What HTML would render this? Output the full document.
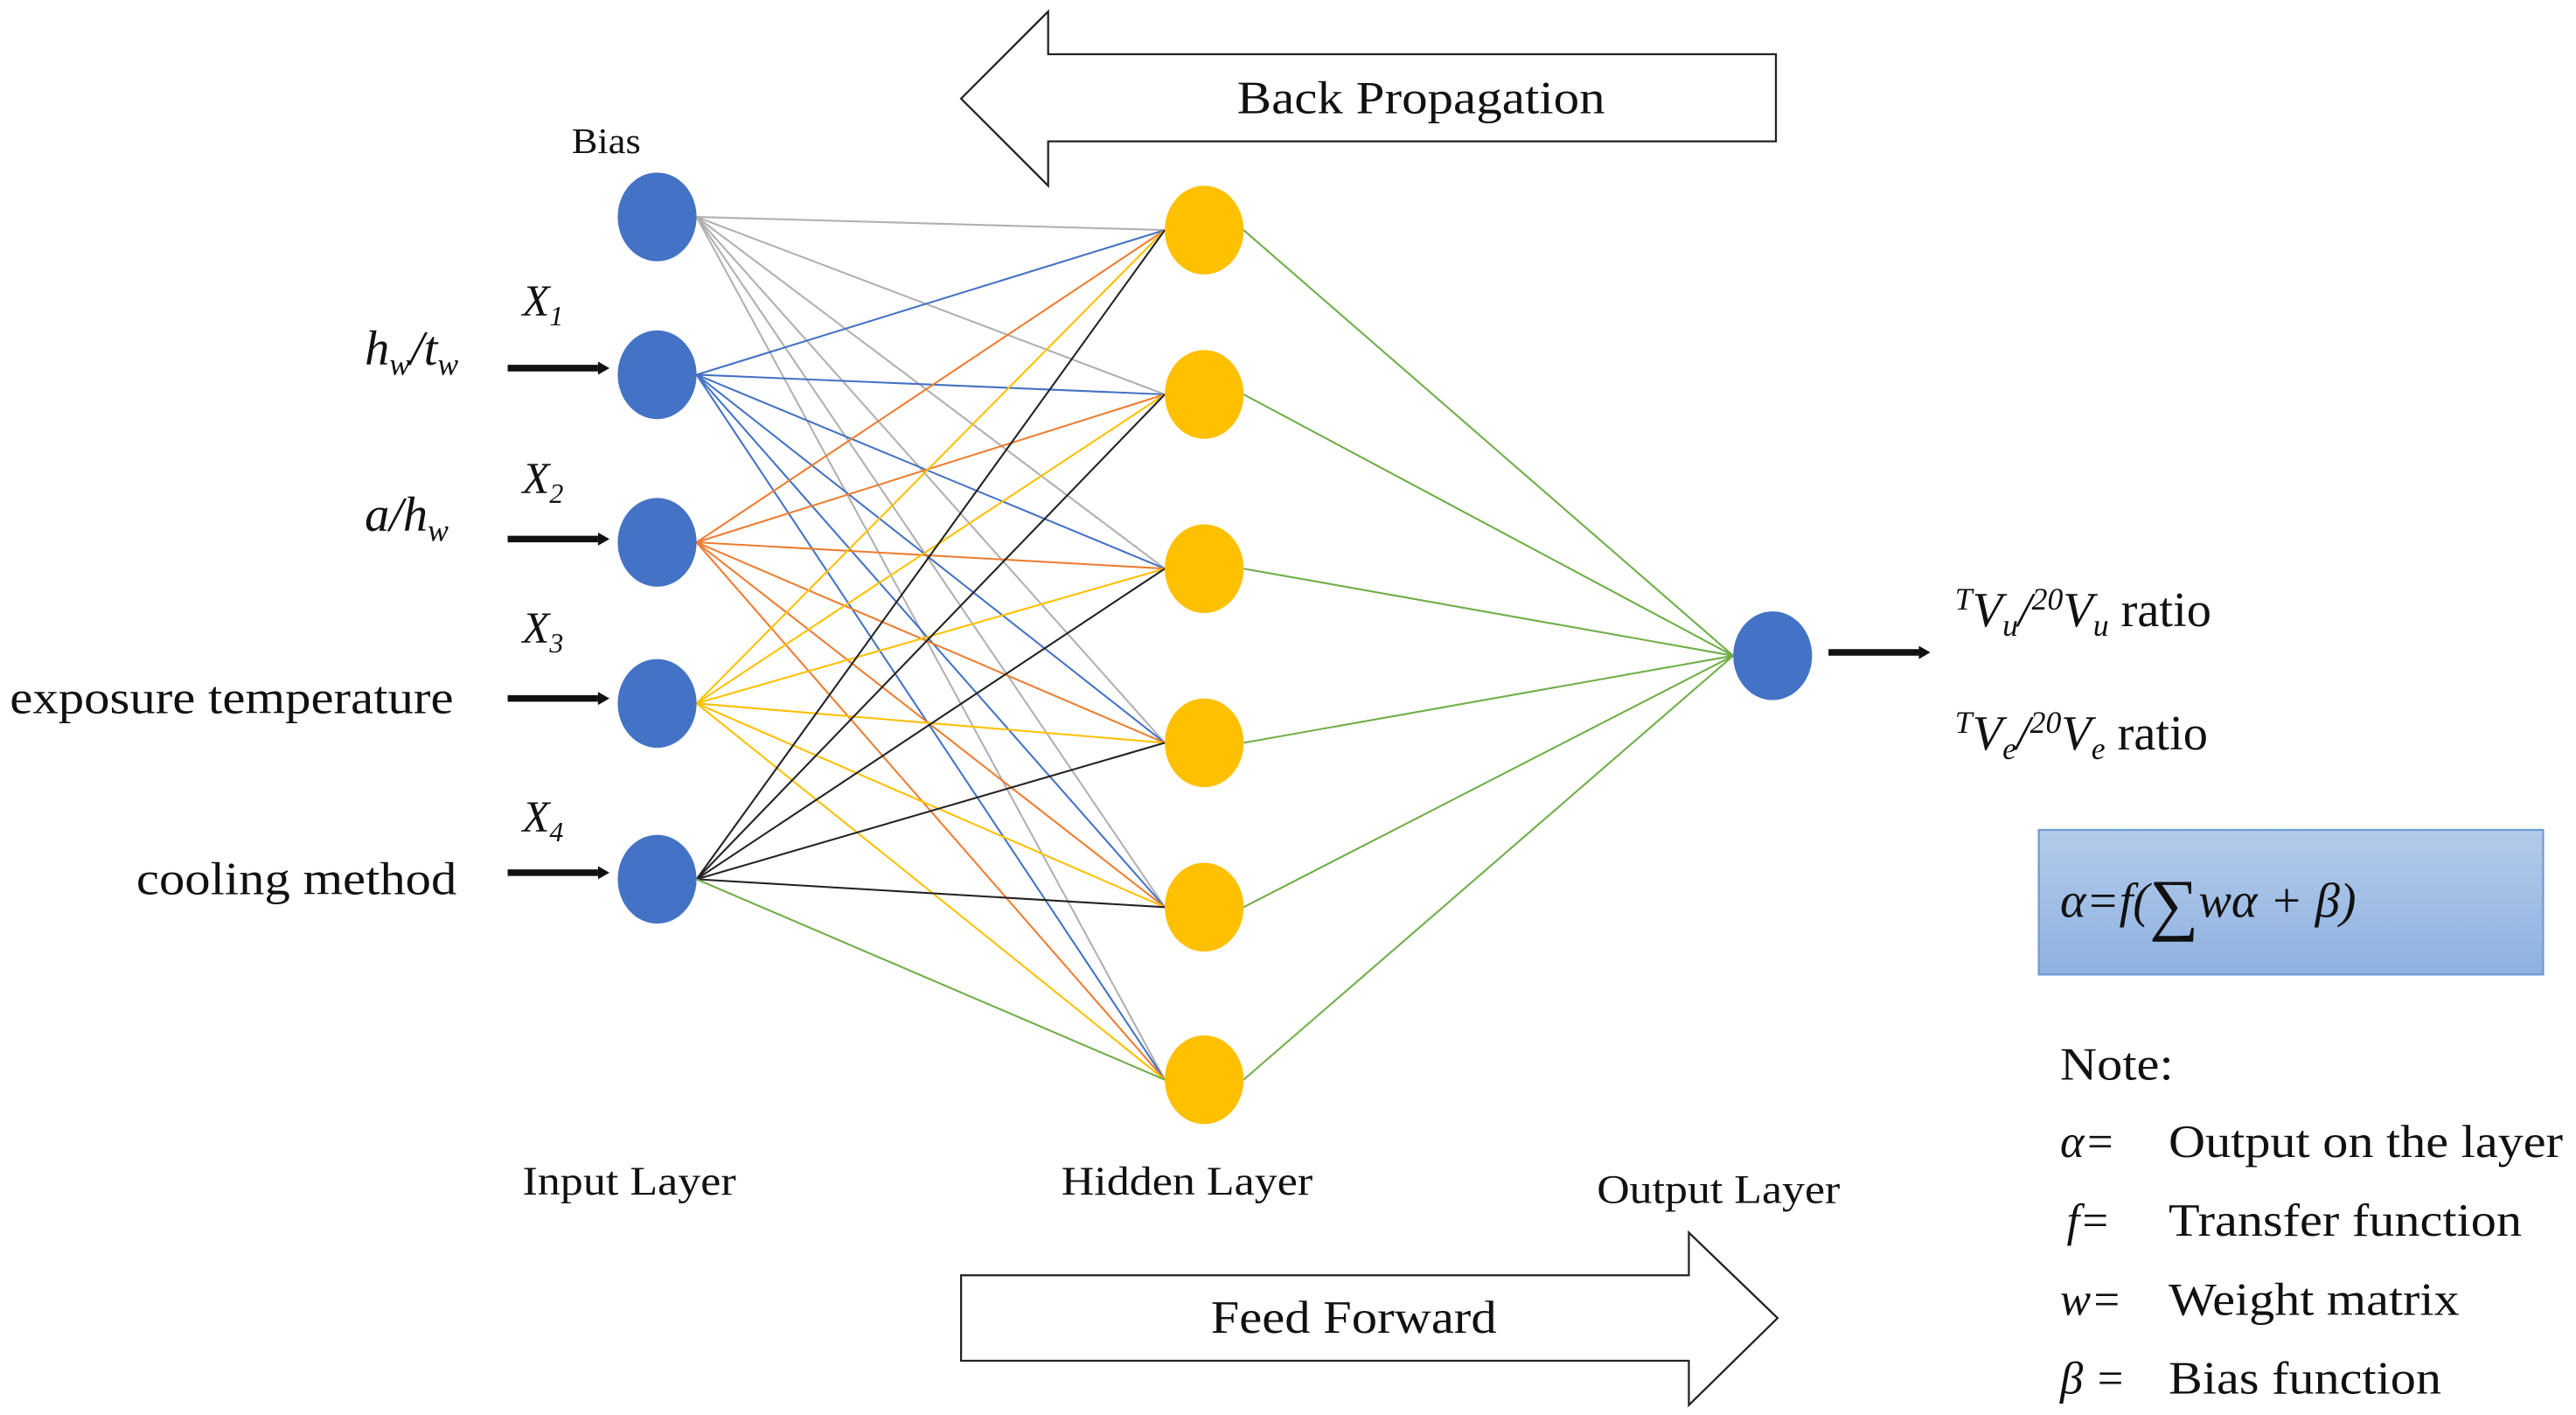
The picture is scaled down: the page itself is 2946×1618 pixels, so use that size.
<!DOCTYPE html>
<html><head><meta charset="utf-8"><style>
html,body{margin:0;padding:0;background:#fff;}
svg{display:block}
text{font-family:"Liberation Serif",serif;fill:#111}
</style></head><body>
<svg width="2946" height="1618" viewBox="0 0 1568 861" preserveAspectRatio="none" xmlns="http://www.w3.org/2000/svg">
<defs>
<linearGradient id="g" x1="0" y1="0" x2="0" y2="1"><stop offset="0" stop-color="#b4cbea"/><stop offset="1" stop-color="#8eb1e0"/></linearGradient>
</defs>
<polygon points="585,60 638,7 638,33 1081,33 1081,86 638,86 638,113" fill="#fff" stroke="#222" stroke-width="1.2"/>
<text x="753" y="69" font-size="28" textLength="224" lengthAdjust="spacingAndGlyphs">Back Propagation</text>
<polygon points="585,776 1028,776 1028,750 1082,802 1028,855 1028,828 585,828" fill="#fff" stroke="#222" stroke-width="1.2"/>
<text x="737" y="811" font-size="28" textLength="174" lengthAdjust="spacingAndGlyphs">Feed Forward</text>
<g stroke-width="1.1" fill="none">
<g stroke="#b0b0b0">
<line x1="424" y1="132" x2="709" y2="140"/><line x1="424" y1="132" x2="709" y2="240"/><line x1="424" y1="132" x2="709" y2="346"/><line x1="424" y1="132" x2="709" y2="452"/><line x1="424" y1="132" x2="709" y2="552"/><line x1="424" y1="132" x2="709" y2="657"/>
</g>
<g stroke="#4472c4">
<line x1="424" y1="228" x2="709" y2="140"/><line x1="424" y1="228" x2="709" y2="240"/><line x1="424" y1="228" x2="709" y2="346"/><line x1="424" y1="228" x2="709" y2="452"/><line x1="424" y1="228" x2="709" y2="552"/><line x1="424" y1="228" x2="709" y2="657"/>
</g>
<g stroke="#ed7d31">
<line x1="424" y1="330" x2="709" y2="140"/><line x1="424" y1="330" x2="709" y2="240"/><line x1="424" y1="330" x2="709" y2="346"/><line x1="424" y1="330" x2="709" y2="452"/><line x1="424" y1="330" x2="709" y2="552"/><line x1="424" y1="330" x2="709" y2="657"/>
</g>
<g stroke="#ffc000">
<line x1="424" y1="428" x2="709" y2="140"/><line x1="424" y1="428" x2="709" y2="240"/><line x1="424" y1="428" x2="709" y2="346"/><line x1="424" y1="428" x2="709" y2="452"/><line x1="424" y1="428" x2="709" y2="552"/><line x1="424" y1="428" x2="709" y2="657"/>
</g>
<g stroke="#222">
<line x1="424" y1="535" x2="709" y2="140"/><line x1="424" y1="535" x2="709" y2="240"/><line x1="424" y1="535" x2="709" y2="346"/><line x1="424" y1="535" x2="709" y2="452"/><line x1="424" y1="535" x2="709" y2="552"/>
</g>
<g stroke="#70ad47">
<line x1="424" y1="535" x2="709" y2="657"/>
<line x1="757" y1="140" x2="1055" y2="399"/><line x1="757" y1="240" x2="1055" y2="399"/><line x1="757" y1="346" x2="1055" y2="399"/><line x1="757" y1="452" x2="1055" y2="399"/><line x1="757" y1="552" x2="1055" y2="399"/><line x1="757" y1="657" x2="1055" y2="399"/>
</g>
</g>
<g fill="#4472c4">
<ellipse cx="400" cy="132" rx="24" ry="27"/><ellipse cx="400" cy="228" rx="24" ry="27"/><ellipse cx="400" cy="330" rx="24" ry="27"/><ellipse cx="400" cy="428" rx="24" ry="27"/><ellipse cx="400" cy="535" rx="24" ry="27"/>
<ellipse cx="1079" cy="399" rx="24" ry="27"/>
</g>
<g fill="#ffc000">
<ellipse cx="733" cy="140" rx="24" ry="27"/><ellipse cx="733" cy="240" rx="24" ry="27"/><ellipse cx="733" cy="346" rx="24" ry="27"/><ellipse cx="733" cy="452" rx="24" ry="27"/><ellipse cx="733" cy="552" rx="24" ry="27"/><ellipse cx="733" cy="657" rx="24" ry="27"/>
</g>
<g stroke="#111" stroke-width="4">
<line x1="309" y1="224" x2="364" y2="224"/><line x1="309" y1="328" x2="364" y2="328"/><line x1="309" y1="425" x2="364" y2="425"/><line x1="309" y1="531" x2="364" y2="531"/><line x1="1113" y1="397" x2="1168" y2="397"/>
</g>
<g fill="#111">
<polygon points="364,220 371,224 364,228"/><polygon points="364,324 371,328 364,332"/><polygon points="364,421 371,425 364,429"/><polygon points="364,527 371,531 364,535"/><polygon points="1168,393 1175,397 1168,401"/>
</g>
<text x="348" y="93" font-size="22" textLength="42" lengthAdjust="spacingAndGlyphs">Bias</text>
<text x="318" y="192" font-size="27" font-style="italic">X<tspan font-size="17" dy="6">1</tspan></text>
<text x="318" y="300" font-size="27" font-style="italic">X<tspan font-size="17" dy="6">2</tspan></text>
<text x="318" y="391" font-size="27" font-style="italic">X<tspan font-size="17" dy="6">3</tspan></text>
<text x="318" y="506" font-size="27" font-style="italic">X<tspan font-size="17" dy="6">4</tspan></text>
<text x="222" y="222" font-size="30" font-style="italic">h<tspan font-size="19" dy="6">w</tspan><tspan dy="-6">/t</tspan><tspan font-size="19" dy="6">w</tspan></text>
<text x="222" y="323" font-size="30" font-style="italic">a/h<tspan font-size="19" dy="6">w</tspan></text>
<text x="6" y="434" font-size="28" textLength="270" lengthAdjust="spacingAndGlyphs">exposure temperature</text>
<text x="83" y="544" font-size="28" textLength="195" lengthAdjust="spacingAndGlyphs">cooling method</text>
<text x="318" y="727" font-size="25" textLength="130" lengthAdjust="spacingAndGlyphs">Input Layer</text>
<text x="646" y="727" font-size="25" textLength="153" lengthAdjust="spacingAndGlyphs">Hidden Layer</text>
<text x="972" y="732" font-size="25" textLength="148" lengthAdjust="spacingAndGlyphs">Output Layer</text>
<text x="1190" y="381" font-size="30"><tspan font-style="italic" font-size="19" dy="-10">T</tspan><tspan font-style="italic" dy="10">V</tspan><tspan font-style="italic" font-size="19" dy="6">u</tspan><tspan font-style="italic" dy="-6">/</tspan><tspan font-style="italic" font-size="19" dy="-10">20</tspan><tspan font-style="italic" dy="10">V</tspan><tspan font-style="italic" font-size="19" dy="6">u</tspan><tspan dy="-6"> ratio</tspan></text>
<text x="1190" y="456" font-size="30"><tspan font-style="italic" font-size="19" dy="-10">T</tspan><tspan font-style="italic" dy="10">V</tspan><tspan font-style="italic" font-size="19" dy="6">e</tspan><tspan font-style="italic" dy="-6">/</tspan><tspan font-style="italic" font-size="19" dy="-10">20</tspan><tspan font-style="italic" dy="10">V</tspan><tspan font-style="italic" font-size="19" dy="6">e</tspan><tspan dy="-6"> ratio</tspan></text>
<rect x="1241" y="505" width="307" height="88" fill="url(#g)" stroke="#6f9bd3" stroke-width="1.2"/>
<text x="1254" y="558" font-size="30" font-style="italic">α=f(<tspan font-style="normal" font-size="42" dy="6">∑</tspan><tspan dy="-6">wα + β)</tspan></text>
<text x="1254" y="657" font-size="28" textLength="69" lengthAdjust="spacingAndGlyphs">Note:</text>
<text x="1254" y="704" font-size="28" font-style="italic">α=</text>
<text x="1320" y="704" font-size="28" textLength="240" lengthAdjust="spacingAndGlyphs">Output on the layer</text>
<text x="1258" y="752" font-size="28" font-style="italic">f=</text>
<text x="1320" y="752" font-size="28" textLength="215" lengthAdjust="spacingAndGlyphs">Transfer function</text>
<text x="1254" y="800" font-size="28" font-style="italic">w=</text>
<text x="1320" y="800" font-size="28" textLength="177" lengthAdjust="spacingAndGlyphs">Weight matrix</text>
<text x="1254" y="848" font-size="28" font-style="italic">β =</text>
<text x="1320" y="848" font-size="28" textLength="166" lengthAdjust="spacingAndGlyphs">Bias function</text>
</svg>
</body></html>
